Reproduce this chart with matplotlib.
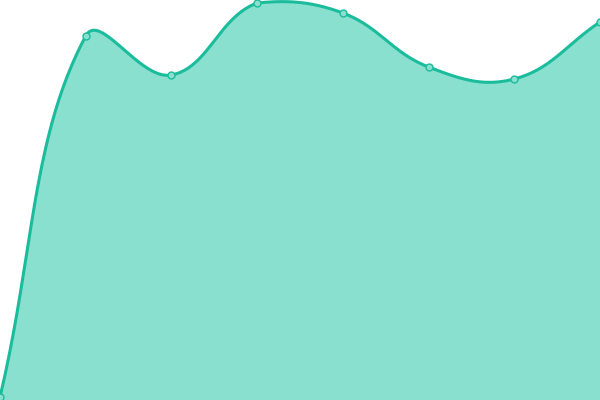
import numpy as np
import matplotlib
matplotlib.use("Agg")
import matplotlib.pyplot as plt

# values (0 at the bottom edge, 400 at the top)
x_idx = [0, 1, 2, 3, 4, 5, 6, 7]
values = [3, 364, 325, 397, 387, 333, 321, 378]

LINE = "#1abc9c"
FILL = "#89e0cf"
TENSION = 0.4
W, H = 600, 400


def spline(xs, ys, tension=TENSION, n=40):
    # bezier smoothing worked out in pixel space, control points kept inside the area
    px = np.asarray(xs, float) * W / (len(xs) - 1)
    py = np.asarray(ys, float)
    pts = np.column_stack([px, py])
    k = len(pts)
    cp_prev = np.zeros_like(pts)
    cp_next = np.zeros_like(pts)
    for i in range(k):
        prev = pts[i - 1] if i > 0 else pts[i]
        nxt = pts[i + 1] if i < k - 1 else pts[i]
        d01 = np.hypot(*(pts[i] - prev))
        d12 = np.hypot(*(nxt - pts[i]))
        tot = d01 + d12
        s01 = d01 / tot if tot else 0
        s12 = d12 / tot if tot else 0
        cp_prev[i] = pts[i] - tension * s01 * (nxt - prev)
        cp_next[i] = pts[i] + tension * s12 * (nxt - prev)
    for cp in (cp_prev, cp_next):
        cp[:, 0] = np.clip(cp[:, 0], 0, W)
        cp[:, 1] = np.clip(cp[:, 1], 0, H)
    out = []
    t = np.linspace(0, 1, n, endpoint=False)[:, None]
    for i in range(k - 1):
        p0, p1, p2, p3 = pts[i], cp_next[i], cp_prev[i + 1], pts[i + 1]
        seg = ((1 - t) ** 3) * p0 + 3 * ((1 - t) ** 2) * t * p1 \
            + 3 * (1 - t) * t ** 2 * p2 + t ** 3 * p3
        out.append(seg)
    out.append(pts[-1:])
    out = np.vstack(out)
    return out[:, 0] * (len(xs) - 1) / W, out[:, 1]


sx, sy = spline(x_idx, values)

fig = plt.figure(figsize=(6, 4), dpi=100)
ax = fig.add_axes([0, 0, 1, 1])
ax.fill_between(sx, sy, 0, color=FILL, linewidth=0)
ax.plot(sx, sy, color=LINE, linewidth=2.2, solid_capstyle="round")
ax.plot(x_idx, values, "o", markersize=5, markerfacecolor=FILL,
        markeredgecolor=LINE, markeredgewidth=1.0)
ax.set_xlim(0, 7)
ax.set_ylim(0, 400)
ax.axis("off")
fig.savefig("out.png", dpi=100)
